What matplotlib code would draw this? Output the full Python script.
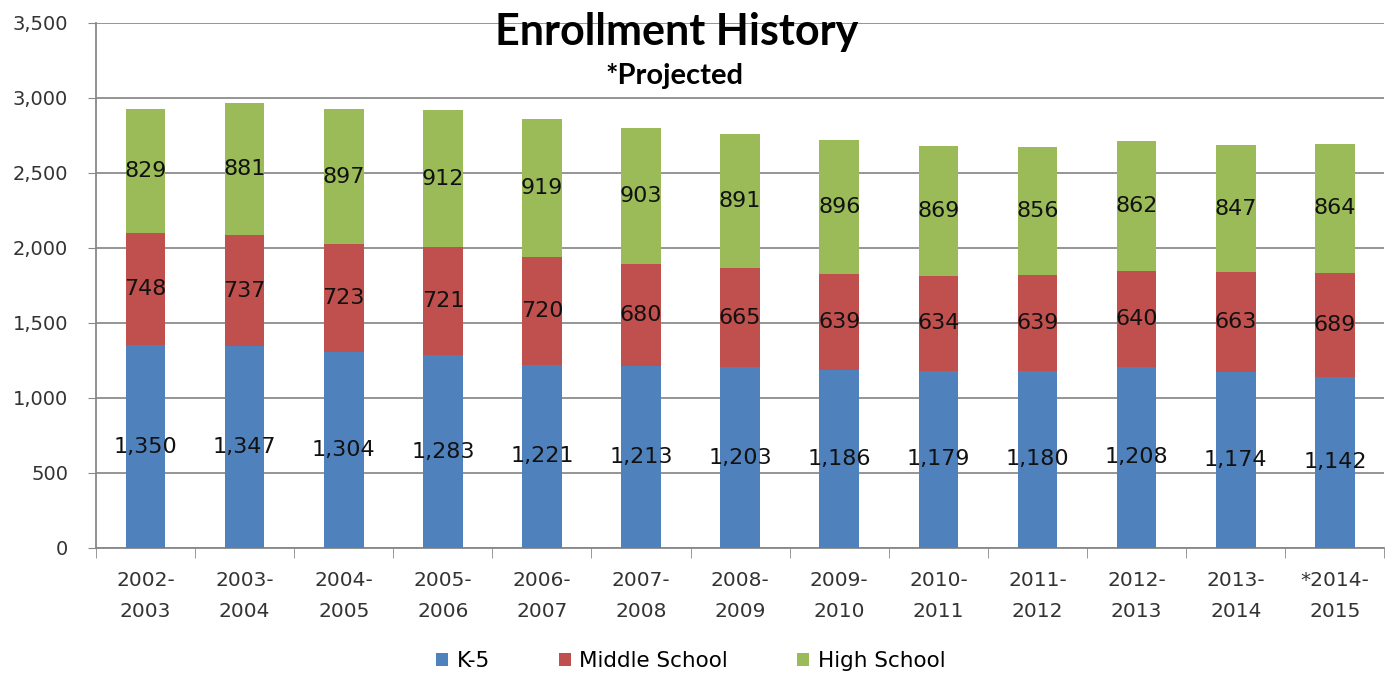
import matplotlib
matplotlib.use("Agg")
import matplotlib.pyplot as plt
import numpy as np

years = ["2002-\n2003", "2003-\n2004", "2004-\n2005", "2005-\n2006", "2006-\n2007",
         "2007-\n2008", "2008-\n2009", "2009-\n2010", "2010-\n2011", "2011-\n2012",
         "2012-\n2013", "2013-\n2014", "*2014-\n2015"]
k5 = [1350, 1347, 1304, 1283, 1221, 1213, 1203, 1186, 1179, 1180, 1208, 1174, 1142]
middle = [748, 737, 723, 721, 720, 680, 665, 639, 634, 639, 640, 663, 689]
high = [829, 881, 897, 912, 919, 903, 891, 896, 869, 856, 862, 847, 864]

series = [("K-5", k5, "#4F81BD"), ("Middle School", middle, "#C0504D"), ("High School", high, "#9BBB59")]

fig = plt.figure(figsize=(13.9, 6.73), dpi=100)
ax = fig.add_axes([0.069, 0.186, 0.927, 0.78])

x = np.arange(len(years))
bottom = np.zeros(len(years))
handles = []
for name, vals, col in series:
    vals = np.array(vals, dtype=float)
    b = ax.bar(x, vals, 0.4, bottom=bottom, color=col, label=name, zorder=3)
    handles.append(b)
    for xi, v, bt in zip(x, vals, bottom):
        ax.text(xi, bt + v / 2, f"{int(v):,}", ha="center", va="center",
                fontsize=16, color="#111111", zorder=4, family="DejaVu Sans")
    bottom += vals

ax.set_xlim(-0.5, len(years) - 0.5)
ax.set_ylim(0, 3500)
ax.set_yticks(np.arange(0, 3501, 500))
ax.set_yticklabels([f"{v:,}" for v in range(0, 3501, 500)], fontsize=14, color="#333333")
ax.set_xticks(x)
ax.set_xticklabels(years, fontsize=14.5, color="#333333", linespacing=1.75)
ax.set_xticks(np.arange(-0.5, len(years)), minor=True)
ax.tick_params(axis="x", which="major", length=0, pad=17)
ax.tick_params(axis="x", which="minor", length=7, color="#888888", direction="out")
ax.tick_params(axis="y", length=6, color="#888888", pad=14)
ax.grid(axis="y", color="#8c8c8c", linewidth=1.3, zorder=0)
for s in ["top", "right"]:
    ax.spines[s].set_visible(False)
for s in ["left", "bottom"]:
    ax.spines[s].set_color("#888888")
    ax.spines[s].set_linewidth(1.3)

fig.text(0.487, 0.953, "Enrollment History", ha="center", va="center",
         fontsize=31, fontweight="bold", family="Lato", color="black")
fig.text(0.485, 0.887, "*Projected", ha="center", va="center",
         fontsize=21, fontweight="bold", family="Lato", color="black")

fig.legend(handles=handles, loc="center", bbox_to_anchor=(0.497, 0.018), ncol=3,
           frameon=False, fontsize=15.5, handlelength=0.55, handleheight=0.55,
           handletextpad=0.4, columnspacing=3.2)

fig.savefig("out.png", dpi=100, facecolor="white")
